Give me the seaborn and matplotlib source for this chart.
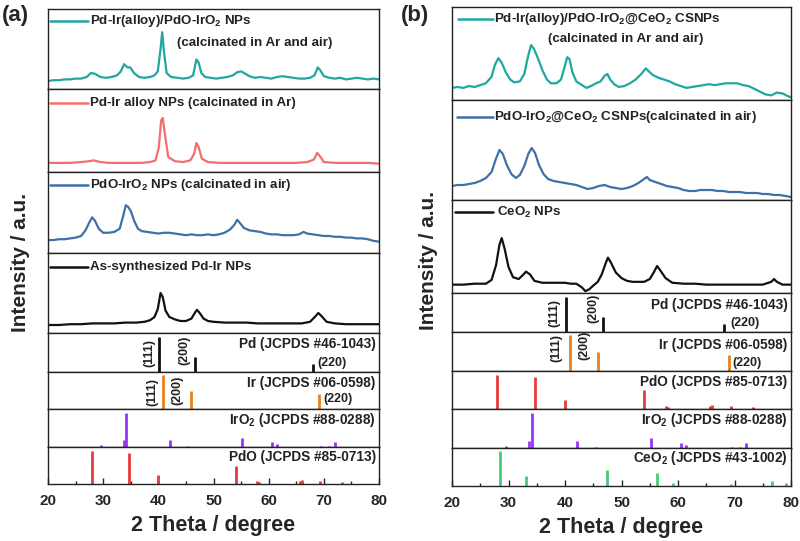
import matplotlib
matplotlib.use("Agg")
import matplotlib.pyplot as plt
import seaborn as sns
import numpy as np

sns.set_style("white")
plt.rcParams['font.family'] = ['Liberation Sans', 'DejaVu Sans']
plt.rcParams['font.weight'] = 'bold'
plt.rcParams['mathtext.fontset'] = 'custom'
plt.rcParams['mathtext.rm'] = 'Liberation Sans:bold'
plt.rcParams['mathtext.bf'] = 'Liberation Sans:bold'
plt.rcParams['mathtext.it'] = 'Liberation Sans:bold'

# ---------------- data: measured patterns (2theta, relative intensity %) ----------------
a_alloy_oxide = [(20,10),(21,11),(22,11),(23,12),(24,12),(25,13),(26,13),(27,15),(27.8,20),(28.5,19),(29.5,15),
    (30.5,14),(31.5,15),(32.5,17),(33.2,22),(33.8,31),(34.4,27),(34.9,27),(35.6,20),(36.5,15),(37.5,14),(38.5,15),
    (39.3,17),(39.9,22),(40.4,50),(40.7,71),(41.0,48),(41.5,20),(42.3,15),(43.5,14),(44.5,13),(45.5,14),(46.3,17),
    (46.9,37),(47.3,33),(47.8,20),(48.5,15),(49.5,14),(50.5,13),(51.5,14),(52.5,15),(53.5,17),(54.3,21),(55.0,22),
    (55.8,19),(56.5,16),(57.5,14),(58.5,15),(59.5,14),(60.5,13),(61.5,15),(62.5,16),(63.5,15),(64.5,14),(65.5,13),
    (66.5,13),(67.5,14),(68.3,17),(68.9,27),(69.4,23),(70.0,16),(71,14),(72,13),(73,14),(74,12),(75,13),(76,14),
    (77,13),(78,12),(79,13),(80,12)]
a_alloy = [(20,11),(22,11),(24,11),(26,12),(27.5,13),(28.3,14),(29.5,12),(31,11),(33,11),(35,11),(37,11),(38.5,12),
    (39.5,14),(40.1,30),(40.5,62),(40.8,65),(41.2,45),(41.8,18),(43,13),(44.5,12),(45.8,14),(46.5,22),(46.9,35),
    (47.3,30),(47.9,16),(49,12),(51,11),(53,11),(55,11),(57,11),(59,11),(61,11),(63,11),(65,11),(67,12),(68.2,15),
    (68.8,23),(69.3,19),(70,12),(72,11),(74,11),(76,11),(78,11),(80,10)]
a_oxide = [(20,16),(21,16),(22,17),(23,17),(24,18),(25,19),(26,21),(26.8,28),(27.5,38),(28.0,44),(28.5,40),(29.2,30),
    (30,25),(31,25),(32,26),(33,30),(33.6,45),(34.1,59),(34.5,57),(35.0,52),(35.6,40),(36.3,30),(37,27),(38,26),
    (39,25),(40,24),(41,25),(42,25),(43,24),(44,23),(45,22),(46,23),(47,22),(48,22),(49,23),(50,22),(51,23),(52,25),
    (53,29),(53.8,35),(54.3,41),(54.8,37),(55.5,31),(56.5,28),(57.5,27),(58.5,26),(59.5,24),(60.5,23),(61.5,23),
    (62.5,22),(63.5,22),(64.5,22),(65.5,23),(66.3,26),(67,24),(68,23),(69,22),(70,21),(71,21),(72,20),(73,20),
    (74,19),(75,19),(76,18),(77,18),(78,17),(79,15),(80,14)]
a_as_synth = [(20,10),(22,10),(24,11),(26,11),(28,12),(30,12),(32,12),(34,13),(36,13),(37.5,14),(38.5,16),(39.3,20),
    (39.9,30),(40.4,50),(40.8,45),(41.3,28),(42,20),(43,17),(44,15),(45,15),(46,18),(46.6,25),(47,29),(47.5,25),
    (48.2,18),(49,15),(50,14),(52,13),(54,13),(56,13),(58,12),(60,12),(62,12),(64,12),(66,12),(67.5,14),(68.5,21),
    (69,25),(69.6,21),(70.5,14),(72,12),(74,11),(76,11),(78,11),(80,11)]
b_alloy_oxide_ceo2 = [(20,13),(21,14),(22,13),(23,15),(24,14),(25,16),(26,18),(27,25),(27.6,38),(28.2,45),(28.8,40),
    (29.5,30),(30.3,22),(31,19),(32,20),(32.8,28),(33.5,48),(34.0,59),(34.5,55),(35.2,45),(36,32),(36.8,22),
    (37.5,18),(38.5,18),(39.3,22),(39.9,35),(40.4,46),(40.8,44),(41.3,30),(42,20),(43,16),(43.8,13),(44.6,15),
    (45.5,18),(46.3,20),(47,26),(47.5,28),(48,22),(48.7,17),(49.5,14),(50.5,15),(51.5,18),(52.5,22),(53.5,28),
    (54.3,34),(54.8,31),(55.5,27),(56.5,24),(57.5,22),(58.5,20),(59.5,17),(60.5,15),(61.5,13),(62.5,14),(63.5,15),
    (64.5,16),(65.5,17),(66.5,16),(67.5,17),(68.5,18),(69.5,18),(70.5,18),(71.5,16),(72.5,15),(73.5,12),(74.5,9),
    (75.5,6),(76.5,5),(77.5,8),(78.5,7),(79.5,4),(80,3)]
b_oxide_ceo2 = [(20,14),(21,15),(22,15),(23,16),(24,17),(25,19),(26,22),(27,28),(27.7,40),(28.4,50),(29,46),(29.7,35),
    (30.5,26),(31.3,22),(32,25),(32.8,34),(33.5,46),(34.1,52),(34.7,47),(35.4,35),(36.2,26),(37,21),(38,19),(39,18),
    (40,17),(41,16),(42,15),(43,13),(44,11),(45,12),(46,14),(47,15),(48,13),(49,12),(50,11),(51,12),(52,14),(53,17),
    (54,21),(54.5,23),(55,20),(56,18),(57,16),(58,14),(59,13),(60,12),(61,10),(62,9),(63,9),(64,10),(65,10),(66,10),
    (67,9),(68,9),(69,8),(70,8),(71,8),(72,7),(73,7),(74,7),(75,6),(76,6),(77,5),(78,5),(79,4),(80,3)]
b_ceo2 = [(20,9),(22,9),(24,10),(26,10),(27,14),(27.8,30),(28.4,52),(28.8,59),(29.3,48),(30,28),(30.8,17),(31.8,15),
    (32.5,19),(33.1,23),(33.8,20),(34.6,13),(36,11),(38,11),(40,11),(41,10),(42,10),(43,6),(43.6,2),(44.3,4),(45,8),
    (45.8,12),(46.5,20),(47.2,32),(47.6,38),(48.1,33),(49,22),(50,16),(51,13),(52,12),(53,12),(54,12),(55,15),
    (55.7,22),(56.3,29),(56.9,24),(57.8,16),(59,11),(61,10),(63,10),(65,9),(67,9),(69,9),(71,9),(73,9),(75,9),
    (76.5,12),(77,15),(77.5,12),(78.5,9),(80,9)]

# ---------------- data: reference cards (2theta, relative height) ----------------
pd_card = [(40.1, 0.90), (46.7, 0.38), (68.1, 0.20)]
ir_card = [(40.9, 0.92), (45.9, 0.48), (69.1, 0.40)]
iro2_card = [(29.6, 0.05), (33.7, 0.18), (34.1, 0.90), (42.2, 0.18), (45.4, 0.03), (55.2, 0.25), (60.6, 0.14),
             (61.5, 0.08), (69.5, 0.02), (71.0, 0.03), (72.1, 0.14)]
pdo_card = [(28.0, 0.90), (34.7, 0.84), (40.0, 0.23), (54.0, 0.50), (57.9, 0.09), (58.3, 0.05), (65.7, 0.08),
            (66.1, 0.10), (69.3, 0.09), (73.3, 0.05)]
ceo2_card = [(28.5, 0.92), (33.1, 0.26), (47.5, 0.42), (56.3, 0.34), (59.1, 0.07), (69.4, 0.05), (76.7, 0.13),
             (79.1, 0.07)]

teal, pink, blue, black = '#1fa7a0', '#f46e6e', '#3f70a8', '#111111'
orange, purple, red, green = '#e8821e', '#9933ff', '#e83a3a', '#44cc77'

LEG_FS = 9.6
CARD_FS = 9.8
MIL_FS = 9.0

W, H = 800, 541
fig = plt.figure(figsize=(8, 5.41), dpi=100)


def add_ax(left, right, top, bottom):
    ax = fig.add_axes([left / W, 1 - bottom / H, (right - left) / W, (bottom - top) / H])
    ax.set_xlim(20, 80)
    for s in ax.spines.values():
        s.set_linewidth(1.0)
        s.set_color('#222222')
    ax.set_xticks([])
    ax.set_yticks([])
    ax.set_xlabel('')
    ax.set_ylabel('')
    return ax


def curve(ax, pts, color, label, lx0, lx1, ly, tx, extra=None):
    xs = [p[0] for p in pts]
    ys = [p[1] for p in pts]
    sns.lineplot(x=xs, y=ys, ax=ax, color=color, linewidth=1.6, estimator=None, sort=False, legend=False)
    ax.set_ylim(0, 100)
    ax.set_xlim(20, 80)
    ax.set_xticks([]); ax.set_yticks([]); ax.set_xlabel(''); ax.set_ylabel('')
    ax.plot([lx0, lx1], [ly, ly], color=color, lw=1.8, transform=ax.transAxes)
    ax.text(tx, ly, label, transform=ax.transAxes, ha='left', va='center', fontsize=LEG_FS,
            fontweight='bold', color='#222222')
    if extra is not None:
        ax.text(extra[0], extra[1], extra[2], transform=ax.transAxes, ha='left', va='center',
                fontsize=LEG_FS, fontweight='bold', color='#222222')


def sticks(ax, card, color, title, ty, miller=None):
    ax.vlines([c[0] for c in card], 0, [c[1] for c in card], colors=color, linewidth=2.0)
    ax.set_ylim(0, 1)
    ax.text(0.99, ty, title, transform=ax.transAxes, ha='right', va='center', fontsize=CARD_FS,
            fontweight='bold', color='#222222')
    if miller:
        for (x, y, t, rot, ha) in miller:
            ax.text(x, y, t, transform=ax.get_xaxis_transform(), rotation=rot, ha=ha, va='center',
                    fontsize=MIL_FS, fontweight='bold', color='#222222')


def bottom_axis(ax):
    ax.set_xticks(range(20, 81, 10))
    ax.set_xticks(range(25, 80, 10), minor=True)
    ax.set_xticklabels([str(v) for v in range(20, 81, 10)], fontsize=11, fontweight='bold')
    ax.tick_params(axis='x', which='major', direction='in', length=4, width=1, bottom=True, pad=7)
    ax.tick_params(axis='x', which='minor', direction='in', length=2, width=1, bottom=True)
    ax.set_xlabel('2 Theta / degree', fontsize=15.5, fontweight='bold', labelpad=5)


# ---------------- panel (a) ----------------
L, R = 48, 379
rows_a = [(9, 89), (89, 172), (172, 253), (253, 333), (333, 372), (372, 409), (409, 447), (447, 484)]
axa = [add_ax(L, R, t, b) for t, b in rows_a]
curve(axa[0], a_alloy_oxide, teal, r'Pd-Ir(alloy)/PdO-IrO$\mathrm{_2}$ NPs', 0.006, 0.121, 0.85, 0.127,
      (0.39, 0.575, '(calcinated in Ar and air)'))
curve(axa[1], a_alloy, pink, 'Pd-Ir alloy NPs (calcinated in Ar)', 0.006, 0.121, 0.83, 0.127)
curve(axa[2], a_oxide, blue, r'PdO-IrO$\mathrm{_2}$ NPs (calcinated in air)', 0.006, 0.121, 0.84, 0.127)
curve(axa[3], a_as_synth, black, 'As-synthesized Pd-Ir NPs', 0.006, 0.121, 0.825, 0.127)
sticks(axa[4], pd_card, black, 'Pd (JCPDS #46-1043)', 0.72,
       [(38.3, 0.49, '(111)', 90, 'center'), (44.8, 0.56, '(200)', 90, 'center'), (68.9, 0.23, '(220)', 0, 'left')])
sticks(axa[5], ir_card, orange, 'Ir (JCPDS #06-0598)', 0.70,
       [(39.0, 0.46, '(111)', 90, 'center'), (43.4, 0.51, '(200)', 90, 'center'), (70.0, 0.27, '(220)', 0, 'left')])
sticks(axa[6], iro2_card, purple, r'IrO$\mathrm{_2}$ (JCPDS #88-0288)', 0.71)
sticks(axa[7], pdo_card, red, 'PdO (JCPDS #85-0713)', 0.73)
bottom_axis(axa[7])

# ---------------- panel (b) ----------------
Lb, Rb = 452, 791
rows_b = [(7, 100), (100, 200), (200, 293), (293, 332), (332, 371), (371, 409), (409, 448), (448, 486)]
axb = [add_ax(Lb, Rb, t, b) for t, b in rows_b]
curve(axb[0], b_alloy_oxide_ceo2, teal, r'Pd-Ir(alloy)/PdO-IrO$\mathrm{_2}$@CeO$\mathrm{_2}$ CSNPs',
      0.018, 0.121, 0.87, 0.124, (0.283, 0.656, '(calcinated in Ar and air)'))
curve(axb[1], b_oxide_ceo2, blue, r'PdO-IrO$\mathrm{_2}$@CeO$\mathrm{_2}$ CSNPs(calcinated in air)',
      0.015, 0.121, 0.83, 0.124)
curve(axb[2], b_ceo2, black, r'CeO$\mathrm{_2}$ NPs', 0.009, 0.121, 0.87, 0.133)
sticks(axb[3], pd_card, black, 'Pd (JCPDS #46-1043)', 0.69,
       [(38.2, 0.49, '(111)', 90, 'center'), (45.0, 0.62, '(200)', 90, 'center'), (69.2, 0.23, '(220)', 0, 'left')])
sticks(axb[4], ir_card, orange, 'Ir (JCPDS #06-0598)', 0.67,
       [(38.4, 0.59, '(111)', 90, 'center'), (43.5, 0.67, '(200)', 90, 'center'), (69.7, 0.20, '(220)', 0, 'left')])
sticks(axb[5], pdo_card, red, 'PdO (JCPDS #85-0713)', 0.71)
sticks(axb[6], iro2_card, purple, r'IrO$\mathrm{_2}$ (JCPDS #88-0288)', 0.72)
sticks(axb[7], ceo2_card, green, r'CeO$\mathrm{_2}$ (JCPDS #43-1002)', 0.74)
bottom_axis(axb[7])

# ---------------- labels ----------------
fig.text(21 / W, 1 - 263 / H, 'Intensity / a.u.', rotation=90, ha='center', va='center', fontsize=15,
         fontweight='bold')
fig.text(428 / W, 1 - 261 / H, 'Intensity / a.u.', rotation=90, ha='center', va='center', fontsize=15,
         fontweight='bold')
fig.text(15 / W, 1 - 16 / H, '(a)', ha='center', va='center', fontsize=16, fontweight='bold')
fig.text(415 / W, 1 - 16 / H, '(b)', ha='center', va='center', fontsize=16, fontweight='bold')

fig.savefig('out.png', dpi=100)
